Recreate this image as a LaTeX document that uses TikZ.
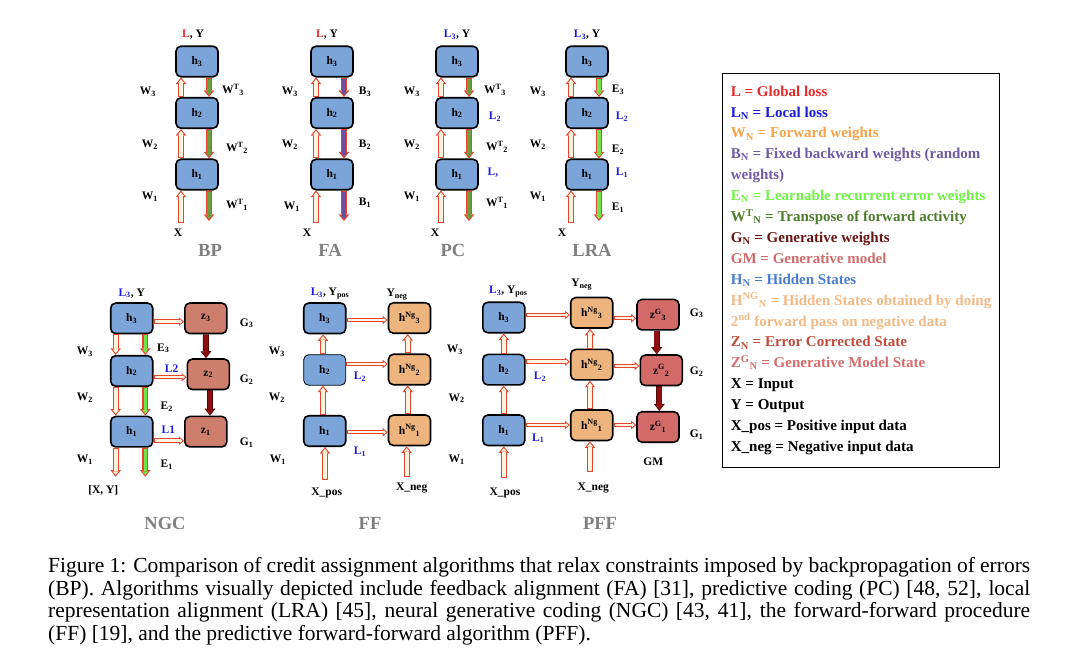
\documentclass[tikz,border=0pt]{standalone}
\usepackage{fontspec}
\setmainfont{Liberation Serif}
\usetikzlibrary{arrows.meta,positioning}

\definecolor{hblue}{HTML}{7BA4D9}
\definecolor{zbrown}{HTML}{CD7E6D}
\definecolor{ngorange}{HTML}{EDB57D}
\definecolor{zgred}{HTML}{D26A68}
\definecolor{arrred}{HTML}{E8452F}
\definecolor{cream}{HTML}{FFF4DE}
\definecolor{wtgreen}{HTML}{6E9C42}
\definecolor{bpurple}{HTML}{6A4FA2}
\definecolor{egreen}{HTML}{74E24A}
\definecolor{gdark}{HTML}{8C1010}
\definecolor{gdarker}{HTML}{560404}
\definecolor{lred}{HTML}{E82A2A}
\definecolor{lblue}{HTML}{1A1AE0}
\definecolor{ttlgray}{HTML}{7F7F7F}
\definecolor{legorange}{HTML}{F5A146}
\definecolor{legpurple}{HTML}{6E5AA8}
\definecolor{leggreen}{HTML}{6CF542}
\definecolor{legwt}{HTML}{4E7D2A}
\definecolor{legg}{HTML}{6B1414}
\definecolor{leggm}{HTML}{D06A6A}
\definecolor{legh}{HTML}{4A7CD2}
\definecolor{legng}{HTML}{F3B985}
\definecolor{legz}{HTML}{C24A38}
\definecolor{legzg}{HTML}{D86B6B}

\newcommand{\subs}[1]{\textsubscript{#1}}
\newcommand{\sups}[1]{\textsuperscript{#1}}
\newcommand{\lblfont}{\fontsize{11.5}{13}\selectfont\bfseries}

\tikzstyle{box}=[draw=black, line width=1.6pt, rounded corners=5pt, minimum width=42pt, minimum height=30.5pt, inner sep=0pt, font=\lblfont]
\tikzstyle{lab}=[inner sep=0pt, font=\lblfont]
\tikzstyle{ttl}=[inner sep=0pt, font=\fontsize{18.5}{20}\selectfont\bfseries, text=ttlgray]

\tikzset{
  wide/.style={line width=5.8pt, draw=arrred, -{Triangle[length=6.5pt,width=10.5pt,line width=0pt]},
    postaction={draw=#1, line width=3.6pt, shorten <=1.1pt, shorten >=1.75pt, -{Triangle[length=3.65pt,width=5.9pt,line width=0pt]}}},
  wide/.default=cream,
  slim/.style={line width=4.4pt, draw=arrred, -{Triangle[length=5pt,width=8.5pt,line width=0pt]},
    postaction={draw=cream, line width=2.4pt, shorten <=1pt, shorten >=1.55pt, -{Triangle[length=2.45pt,width=4.2pt,line width=0pt]}}},
  gen/.style={line width=6pt, draw=gdarker, -{Triangle[length=7pt,width=11pt,line width=0pt]},
    postaction={draw=gdark, line width=4.6pt, shorten <=0.7pt, shorten >=1.1pt, -{Triangle[length=5.2pt,width=8.1pt,line width=0pt]}}}
}

\begin{document}
\begin{tikzpicture}[x=1pt,y=-1pt]
  \useasboundingbox (0,0) rectangle (1080,668);

  % BP
  \begin{scope}[shift={(197,0)}, name prefix=bp-]
    \node[box, fill=hblue] (h3) at (0,61.5) {h\subs{3}};
    \node[box, fill=hblue] (h2) at (0,113) {h\subs{2}};
    \node[box, fill=hblue] (h1) at (0,174.5) {h\subs{1}};
    \coordinate (in) at (-16,223);
    \coordinate (out) at (12,221);
    \draw[wide] (in) -- (in |- h1.south);
    \draw[wide] ([xshift=-16pt]h1.north) -- ([xshift=-16pt]h2.south);
    \draw[wide] ([xshift=-16pt]h2.north) -- ([xshift=-16pt]h3.south);
    \draw[wide=wtgreen] ([xshift=12pt]h3.south) -- ([xshift=12pt]h2.north);
    \draw[wide=wtgreen] ([xshift=12pt]h2.south) -- ([xshift=12pt]h1.north);
    \draw[wide=wtgreen] (out |- h1.south) -- (out);
    \node[lab] (ly) at (-4,35) {\textcolor{lred}{L}, Y};
    \node[lab] (w3) at (-49,92) {W\subs{3}};
    \node[lab] (w2) at (-47,145) {W\subs{2}};
    \node[lab] (w1) at (-47,197) {W\subs{1}};
    \node[lab] (t3) at (36,90) {W\sups{T}\subs{3}};
    \node[lab] (t2) at (40,148) {W\sups{T}\subs{2}};
    \node[lab] (t1) at (40,205) {W\sups{T}\subs{1}};
    \node[lab] (x) at (-19,233) {X};
    \node[ttl] (name) at (13,250) {BP};
  \end{scope}

  % FA
  \begin{scope}[shift={(332,0)}, name prefix=fa-]
    \node[box, fill=hblue] (h3) at (0,61.5) {h\subs{3}};
    \node[box, fill=hblue] (h2) at (0,113) {h\subs{2}};
    \node[box, fill=hblue] (h1) at (0,174.5) {h\subs{1}};
    \coordinate (in) at (-16,223);
    \coordinate (out) at (12,221);
    \draw[wide] (in) -- (in |- h1.south);
    \draw[wide] ([xshift=-16pt]h1.north) -- ([xshift=-16pt]h2.south);
    \draw[wide] ([xshift=-16pt]h2.north) -- ([xshift=-16pt]h3.south);
    \draw[wide=bpurple] ([xshift=12pt]h3.south) -- ([xshift=12pt]h2.north);
    \draw[wide=bpurple] ([xshift=12pt]h2.south) -- ([xshift=12pt]h1.north);
    \draw[wide=bpurple] (out |- h1.south) -- (out);
    \node[lab] (ly) at (-5,35) {\textcolor{lred}{L}, Y};
    \node[lab] (w3) at (-42,92) {W\subs{3}};
    \node[lab] (w2) at (-42,145) {W\subs{2}};
    \node[lab] (w1) at (-40,207) {W\subs{1}};
    \node[lab] (b3) at (33,92) {B\subs{3}};
    \node[lab] (b2) at (33,145) {B\subs{2}};
    \node[lab] (b1) at (33,203) {B\subs{1}};
    \node[lab] (x) at (-25,233) {X};
    \node[ttl] (name) at (-2,250) {FA};
  \end{scope}

  % PC
  \begin{scope}[shift={(457,0)}, name prefix=pc-]
    \node[box, fill=hblue] (h3) at (0,61.5) {h\subs{3}};
    \node[box, fill=hblue] (h2) at (0,113) {h\subs{2}};
    \node[box, fill=hblue] (h1) at (0,174.5) {h\subs{1}};
    \coordinate (in) at (-16,223);
    \coordinate (out) at (12,221);
    \draw[wide] (in) -- (in |- h1.south);
    \draw[wide] ([xshift=-16pt]h1.north) -- ([xshift=-16pt]h2.south);
    \draw[wide] ([xshift=-16pt]h2.north) -- ([xshift=-16pt]h3.south);
    \draw[wide=wtgreen] ([xshift=12pt]h3.south) -- ([xshift=12pt]h2.north);
    \draw[wide=wtgreen] ([xshift=12pt]h2.south) -- ([xshift=12pt]h1.north);
    \draw[wide=wtgreen] (out |- h1.south) -- (out);
    \node[lab] (ly) at (0,35) {\textcolor{lblue}{L\subs{3}}, Y};
    \node[lab] (w3) at (-45,92) {W\subs{3}};
    \node[lab] (w2) at (-45,145) {W\subs{2}};
    \node[lab] (w1) at (-45,197) {W\subs{1}};
    \node[lab] (t3) at (38,90) {W\sups{T}\subs{3}};
    \node[lab, text=lblue] (l2) at (38,117) {L\subs{2}};
    \node[lab] (t2) at (40,147) {W\sups{T}\subs{2}};
    \node[lab, text=lblue] (l1) at (36,173) {L,};
    \node[lab] (t1) at (40,203) {W\sups{T}\subs{1}};
    \node[lab] (x) at (-22,233) {X};
    \node[ttl] (name) at (-4,250) {PC};
  \end{scope}

  % LRA
  \begin{scope}[shift={(587,0)}, name prefix=lra-]
    \node[box, fill=hblue] (h3) at (0,61.5) {h\subs{3}};
    \node[box, fill=hblue] (h2) at (0,113) {h\subs{2}};
    \node[box, fill=hblue] (h1) at (0,174.5) {h\subs{1}};
    \coordinate (in) at (-16,223);
    \coordinate (out) at (12,221);
    \draw[wide] (in) -- (in |- h1.south);
    \draw[wide] ([xshift=-16pt]h1.north) -- ([xshift=-16pt]h2.south);
    \draw[wide] ([xshift=-16pt]h2.north) -- ([xshift=-16pt]h3.south);
    \draw[wide=egreen] ([xshift=12pt]h3.south) -- ([xshift=12pt]h2.north);
    \draw[wide=egreen] ([xshift=12pt]h2.south) -- ([xshift=12pt]h1.north);
    \draw[wide=egreen] (out |- h1.south) -- (out);
    \node[lab] (ly) at (0,35) {\textcolor{lblue}{L\subs{3}}, Y};
    \node[lab] (w3) at (-49,92) {W\subs{3}};
    \node[lab] (w2) at (-49,145) {W\subs{2}};
    \node[lab] (w1) at (-49,197) {W\subs{1}};
    \node[lab] (e3) at (31,90) {E\subs{3}};
    \node[lab, text=lblue] (l2) at (35,117) {L\subs{2}};
    \node[lab] (e2) at (31,150) {E\subs{2}};
    \node[lab, text=lblue] (l1) at (35,173) {L\subs{1}};
    \node[lab] (e1) at (31,208) {E\subs{1}};
    \node[lab] (x) at (-25,233) {X};
    \node[ttl] (name) at (5,250) {LRA};
  \end{scope}

  % NGC
  \begin{scope}[name prefix=ngc-]
    \node[box, fill=hblue] (h3) at (131.7,318.3) {h\subs{3}};
    \node[box, fill=hblue] (h2) at (131.7,371) {h\subs{2}};
    \node[box, fill=hblue] (h1) at (131.7,431.7) {h\subs{1}};
    \node[box, fill=zbrown] (z3) at (205.8,318.3) {z\subs{3}};
    \node[box, fill=zbrown] (z2) at (208.3,374.3) {z\subs{2}};
    \node[box, fill=zbrown] (z1) at (205.8,431.7) {z\subs{1}};
    \coordinate (wout) at (115.7,476.7);
    \coordinate (eout) at (145.3,476.7);
    \draw[wide] ([xshift=-16pt]h3.south) -- ([xshift=-16pt]h2.north);
    \draw[wide] ([xshift=-16pt]h2.south) -- ([xshift=-16pt]h1.north);
    \draw[wide] (wout |- h1.south) -- (wout);
    \draw[wide=egreen] ([xshift=13.6pt]h3.south) -- ([xshift=13.6pt]h2.north);
    \draw[wide=egreen] ([xshift=13.6pt]h2.south) -- ([xshift=13.6pt]h1.north);
    \draw[wide=egreen] (eout |- h1.south) -- (eout);
    \draw[slim] ([yshift=-3.4pt]h3.east) -- ([yshift=-3.4pt]z3.west);
    \draw[slim] ([yshift=-6.3pt]h2.east) -- ([yshift=-3pt]z2.west);
    \draw[slim] ([yshift=-9pt]h1.east) -- ([yshift=-9pt]z1.west);
    \draw[gen] (z3.south) -- ([xshift=-2.3pt]z2.north);
    \draw[gen] ([xshift=1.7pt]z2.south) -- ([xshift=4.2pt]z1.north);
    \node[lab] (ly) at (131.7,293.3) {\textcolor{lblue}{L\subs{3}}, Y};
    \node[lab] (w3) at (85,351.7) {W\subs{3}};
    \node[lab] (w2) at (85,398) {W\subs{2}};
    \node[lab] (w1) at (85,460) {W\subs{1}};
    \node[lab] (e3) at (163.3,348.3) {E\subs{3}};
    \node[lab] (e2) at (166.7,406.7) {E\subs{2}};
    \node[lab] (e1) at (166.7,465) {E\subs{1}};
    \node[lab, text=lblue] (l2) at (171.7,368.3) {L2};
    \node[lab, text=lblue] (l1) at (168.3,430) {L1};
    \node[lab] (g3) at (246.7,323.3) {G\subs{3}};
    \node[lab] (g2) at (246.7,380) {G\subs{2}};
    \node[lab] (g1) at (246.7,443) {G\subs{1}};
    \node[lab] (xy) at (103.3,490) {[X, Y]};
    \node[ttl] (name) at (165,523) {NGC};
  \end{scope}

  % FF
  \begin{scope}[name prefix=ff-]
    \node[box, fill=hblue] (h3) at (324.7,318.3) {h\subs{3}};
    \node[box, fill=hblue, line width=0.8pt] (h2) at (324.7,370) {h\subs{2}};
    \node[box, fill=hblue] (h1) at (324.7,431) {h\subs{1}};
    \node[box, fill=ngorange] (n3) at (409.5,318) {h\sups{Ng}\subs{3}};
    \node[box, fill=ngorange] (n2) at (409.5,369.5) {h\sups{Ng}\subs{2}};
    \node[box, fill=ngorange] (n1) at (409.5,430.3) {h\sups{Ng}\subs{1}};
    \coordinate (pin) at (325,480);
    \coordinate (nin) at (406.7,476.7);
    \draw[wide] (pin) -- (pin |- h1.south);
    \draw[wide] ([xshift=-1.7pt]h1.north) -- ([xshift=-1.7pt]h2.south);
    \draw[wide] ([xshift=-1.7pt]h2.north) -- ([xshift=-1.7pt]h3.south);
    \draw[wide] (nin) -- (nin |- n1.south);
    \draw[wide] ([xshift=-1.8pt]n1.north) -- ([xshift=-1.8pt]n2.south);
    \draw[wide] ([xshift=-1.8pt]n2.north) -- ([xshift=-1.8pt]n3.south);
    \draw[slim] ([yshift=-1.7pt]h3.east) -- ([yshift=-2pt]n3.west);
    \draw[slim] ([yshift=6pt]h2.east) -- ([yshift=5.5pt]n2.west);
    \draw[slim] ([yshift=-1.3pt]h1.east) -- ([yshift=-2pt]n1.west);
    \node[lab] (ly) at (330,293.3) {\textcolor{lblue}{L\subs{3}}, Y\subs{pos}};
    \node[lab] (yn) at (397,295) {Y\subs{neg}};
    \node[lab] (w3) at (277,352) {W\subs{3}};
    \node[lab] (w2) at (277,398) {W\subs{2}};
    \node[lab] (w1) at (278,460) {W\subs{1}};
    \node[lab, text=lblue] (l2) at (360,376.7) {L\subs{2}};
    \node[lab, text=lblue] (l1) at (360,451.7) {L\subs{1}};
    \node[lab] (xp) at (326.7,493.3) {X\_pos};
    \node[lab] (xn) at (411.7,488.3) {X\_neg};
    \node[ttl] (name) at (370,523) {FF};
  \end{scope}

  % PFF
  \begin{scope}[name prefix=pff-]
    \node[box, fill=hblue] (h3) at (503.8,317.5) {h\subs{3}};
    \node[box, fill=hblue] (h2) at (503.8,369.7) {h\subs{2}};
    \node[box, fill=hblue] (h1) at (503.8,430.3) {h\subs{1}};
    \node[box, fill=ngorange] (n3) at (591.7,312.8) {h\sups{Ng}\subs{3}};
    \node[box, fill=ngorange] (n2) at (591.7,364.7) {h\sups{Ng}\subs{2}};
    \node[box, fill=ngorange] (n1) at (591.7,425.3) {h\sups{Ng}\subs{1}};
    \node[box, fill=zgred] (z3) at (658,314.7) {z\sups{G}\subs{3}};
    \node[box, fill=zgred] (z2) at (661.3,370.3) {z\sups{G}\subs{2}};
    \node[box, fill=zgred] (z1) at (658,427) {z\sups{G}\subs{1}};
    \coordinate (pin) at (503.8,478);
    \coordinate (nin) at (590,471.7);
    \draw[wide] (pin) -- (pin |- h1.south);
    \draw[wide] (h1.north) -- (h2.south);
    \draw[wide] (h2.north) -- (h3.south);
    \draw[wide] (nin) -- (nin |- n1.south);
    \draw[wide] ([xshift=-1.7pt]n1.north) -- ([xshift=-1.7pt]n2.south);
    \draw[wide] ([xshift=-1.7pt]n2.north) -- ([xshift=-1.7pt]n3.south);
    \draw[slim] ([yshift=2.5pt]h3.east) -- ([yshift=-2.2pt]n3.west);
    \draw[slim] ([yshift=8pt]h2.east) -- ([yshift=3pt]n2.west);
    \draw[slim] ([yshift=5.3pt]h1.east) -- ([yshift=0.3pt]n1.west);
    \draw[slim] ([yshift=-5.5pt]n3.east) -- ([yshift=-3.6pt]z3.west);
    \draw[slim] ([yshift=-1.3pt]n2.east) -- ([yshift=4.3pt]z2.west);
    \draw[slim] ([yshift=0.3pt]n1.east) -- ([yshift=2pt]z1.west);
    \draw[gen] ([xshift=-1.3pt]z3.south) -- ([xshift=-4.6pt]z2.north);
    \draw[gen] ([xshift=-2pt]z2.south) -- ([xshift=1.3pt]z1.north);
    \node[lab] (ly) at (508.3,291.7) {\textcolor{lblue}{L\subs{3}}, Y\subs{pos}};
    \node[lab] (yn) at (581.7,285) {Y\subs{neg}};
    \node[lab] (w3) at (455,350) {W\subs{3}};
    \node[lab] (w2) at (456.7,398.3) {W\subs{2}};
    \node[lab] (w1) at (456.7,460) {W\subs{1}};
    \node[lab, text=lblue] (l2) at (540,376.7) {L\subs{2}};
    \node[lab, text=lblue] (l1) at (538.3,438.3) {L\subs{1}};
    \node[lab] (g3) at (696.7,313.3) {G\subs{3}};
    \node[lab] (g2) at (696.7,371.7) {G\subs{2}};
    \node[lab] (g1) at (696.7,435) {G\subs{1}};
    \node[lab] (gm) at (653.3,461.7) {GM};
    \node[lab] (xp) at (505,493.3) {X\_pos};
    \node[lab] (xn) at (593.3,488.3) {X\_neg};
    \node[ttl] (name) at (600,523) {PFF};
  \end{scope}

  % legend
  \node[draw, line width=1.4pt, minimum width=277pt, minimum height=394pt, inner sep=0pt, anchor=north west] (legbox) at (722,73) {};
  \node[anchor=north west, align=left, inner sep=0pt, font=\fontsize{15}{20.9}\selectfont\bfseries] (legtxt) at (730.7,85.5) {%
    \textcolor{lred}{L = Global loss}\\
    \textcolor{lblue}{L\subs{N} = Local loss}\\
    \textcolor{legorange}{W\subs{N} = Forward weights}\\
    \textcolor{legpurple}{B\subs{N} = Fixed backward weights (random}\\
    \textcolor{legpurple}{weights)}\\
    \textcolor{leggreen}{E\subs{N} = Learnable recurrent error weights}\\
    \textcolor{legwt}{W\sups{T}\subs{N} = Transpose of forward activity}\\
    \textcolor{legg}{G\subs{N} = Generative weights}\\
    \textcolor{leggm}{GM = Generative model}\\
    \textcolor{legh}{H\subs{N} = Hidden States}\\
    \textcolor{legng}{H\sups{NG}\subs{N} = Hidden States obtained by doing}\\
    \textcolor{legng}{2\sups{nd} forward pass on negative data}\\
    \textcolor{legz}{Z\subs{N} = Error Corrected State}\\
    \textcolor{legzg}{Z\sups{G}\subs{N} = Generative Model State}\\
    X = Input\\
    Y = Output\\
    X\_pos = Positive input data\\
    X\_neg = Negative input data};

  % caption
  \node[anchor=north west, text width=982pt, align=justify, inner sep=0pt, font=\fontsize{21.5}{22.7}\selectfont] (caption) at (48,557) {Figure 1: Comparison of credit assignment algorithms that relax constraints imposed by backpropagation of errors\linebreak (BP). Algorithms visually depicted include feedback alignment (FA) [31], predictive coding (PC) [48, 52], local\linebreak representation alignment (LRA) [45], neural generative coding (NGC) [43, 41], the forward-forward procedure\linebreak (FF) [19], and the predictive forward-forward algorithm (PFF).};
\end{tikzpicture}
\end{document}
